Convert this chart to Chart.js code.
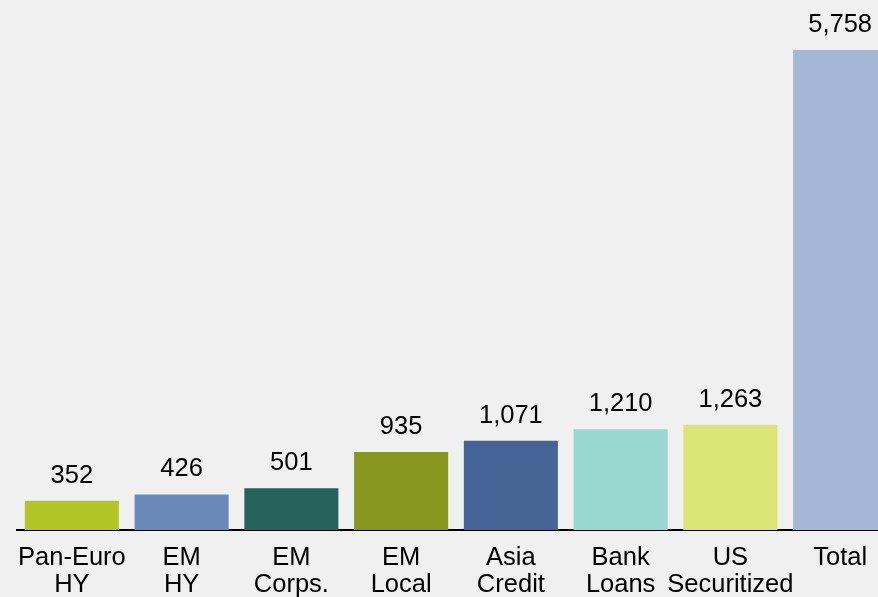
<!DOCTYPE html>
<html>
<head>
<meta charset="utf-8">
<title>Market size</title>
<script src="https://cdn.jsdelivr.net/npm/chart.js@4/dist/chart.umd.min.js"></script>
<style>
  html, body { margin:0; padding:0; background:#f0f0f0; overflow:hidden; }
  #wrap { width:895px; height:597px; }
</style>
</head>
<body>
<div id="wrap"><canvas id="chart" width="895" height="597"></canvas></div>
<script>
// categories (two-line labels) and their values
const categories = [
  ['Pan-Euro','HY'], ['EM','HY'], ['EM','Corps.'], ['EM','Local'],
  ['Asia','Credit'], ['Bank','Loans'], ['US','Securitized'], ['Total']
];
const values = [352, 426, 501, 935, 1071, 1210, 1263, 5758];
const barColors = ['#b2c526','#6a89ba','#26635a','#87961f','#446496','#99d8d0','#d9e574','#a5b7d6'];

const FONT = '"Liberation Sans", Arial, sans-serif';

// value label above each bar
const valueLabels = {
  id:'valueLabels',
  afterDatasetsDraw(chart){
    const ctx = chart.ctx;
    const meta = chart.getDatasetMeta(0);
    ctx.save();
    ctx.font = '25.5px ' + FONT;
    ctx.fillStyle = '#000';
    ctx.textAlign = 'center';
    ctx.textBaseline = 'alphabetic';
    meta.data.forEach((bar, i)=>{
      const p = bar.getProps(['x','y'], true);
      ctx.fillText(values[i].toLocaleString('en-US'), p.x, p.y - 18);
    });
    ctx.restore();
  }
};

new Chart(document.getElementById('chart').getContext('2d'), {
  type:'bar',
  data:{
    labels:categories,
    datasets:[{ data:values, backgroundColor:barColors, borderWidth:0, barPercentage:0.857, categoryPercentage:1 }]
  },
  options:{
    responsive:false,
    animation:false,
    layout:{ padding:{ left:17, right:0, top:0, bottom:0 } },
    plugins:{ legend:{ display:false }, tooltip:{ enabled:false } },
    scales:{
      x:{
        grid:{ display:false },
        border:{ display:true, color:'#000', width:2 },
        ticks:{ color:'#000', font:{ family:FONT, size:25.5, lineHeight:1.07 }, maxRotation:0, autoSkip:false, padding:6 },
        afterFit(scale){ scale.height = 67; }
      },
      y:{ display:false, min:0, max:6358 }
    }
  },
  plugins:[valueLabels]
});
</script>
</body>
</html>
